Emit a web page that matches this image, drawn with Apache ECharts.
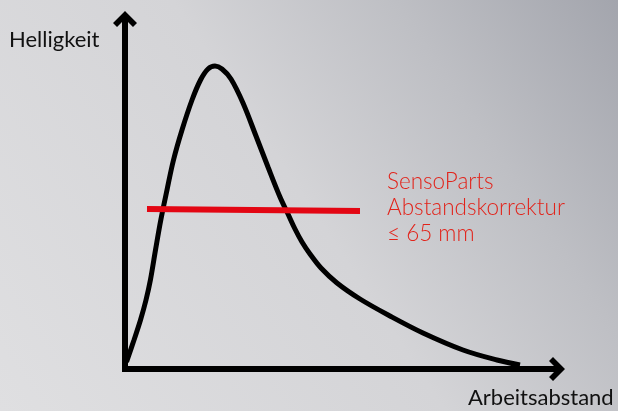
<!DOCTYPE html>
<html>
<head>
<meta charset="utf-8">
<script src="https://cdn.jsdelivr.net/npm/echarts@6/dist/echarts.min.js"></script>
<style>
html,body{margin:0;padding:0;}
#chart{width:618px;height:411px;}
</style>
</head>
<body>
<div id="chart"></div>
<script>
// Brightness curve (x = working distance, y = brightness)
const curveX = [1.5, 9, 15.5, 21, 25.4, 30.5, 35.8, 42, 48.5, 57, 67, 75.5, 83, 90, 97, 106, 118, 131, 143, 155, 163, 170, 177, 185, 196, 212, 235, 265, 298, 338, 372, 395];
const curveY = [7, 29, 49, 69, 89, 119, 149, 179, 209, 239, 269, 289, 300, 303, 300, 290, 266, 233, 202, 172, 155, 140, 127, 115, 101, 86, 70, 53, 36, 19, 9, 4];
// Red threshold line
const thresholdX = [22, 235];
const thresholdY = [160, 158];
// Texts
const yAxisName = 'Helligkeit';
const xAxisName = 'Arbeitsabstand';
const noteLines = ['SensoParts', 'Abstandskorrektur', '≤ 65 mm'];

const curveData = curveX.map((x, i) => [x, curveY[i]]);
const thresholdData = thresholdX.map((x, i) => [x, thresholdY[i]]);

const arrowPath = 'path://M12 0 L24 12 L20 16 L15 11 L15 20 L9 20 L9 11 L4 16 L0 12 Z';
const FONT = 'Lato, "Open Sans", sans-serif';

const chart = echarts.init(document.getElementById('chart'), null, {renderer: 'canvas'});
chart.setOption({
  animation: false,
  backgroundColor: {
    type: 'linear', x: 1, y: 0, x2: 0, y2: 1,
    colorStops: [
      {offset: 0, color: '#a3a5ad'},
      {offset: 0.25, color: '#bebfc4'},
      {offset: 0.5, color: '#d4d4d7'},
      {offset: 1, color: '#dfdfe1'}
    ]
  },
  grid: {left: 125, right: 63, top: 21, bottom: 42, containLabel: false},
  xAxis: {
    type: 'value', min: 0, max: 430,
    axisLine: {show: true, onZero: false, symbol: ['none', arrowPath], symbolSize: [24, 20],
      lineStyle: {color: '#000', width: 6, cap: 'square'}},
    axisTick: {show: false}, axisLabel: {show: false}, splitLine: {show: false}
  },
  yAxis: {
    type: 'value', min: 0, max: 348,
    axisLine: {show: true, onZero: false, symbol: ['none', arrowPath], symbolSize: [24, 20],
      lineStyle: {color: '#000', width: 6, cap: 'square'}},
    axisTick: {show: false}, axisLabel: {show: false}, splitLine: {show: false}
  },
  series: [
    {
      type: 'line', data: curveData, smooth: 0.35, showSymbol: false, symbol: 'none',
      lineStyle: {color: '#000', width: 5}, z: 3
    },
    {
      type: 'line', data: thresholdData, showSymbol: false, symbol: 'none',
      lineStyle: {color: '#e30613', width: 6, cap: 'butt'}, z: 4
    }
  ],
  graphic: [
    {type: 'text', left: 9, top: 29, style: {text: yAxisName, font: '22px ' + FONT, fill: '#111'}},
    {type: 'text', left: 468, top: 387, style: {text: xAxisName, font: '22px ' + FONT, fill: '#111'}},
    {type: 'text', left: 387, top: 169, style: {text: noteLines.join('\n'), font: '300 22.5px ' + FONT, lineHeight: 26, fill: '#e2231a'}}
  ]
});
</script>
</body>
</html>
